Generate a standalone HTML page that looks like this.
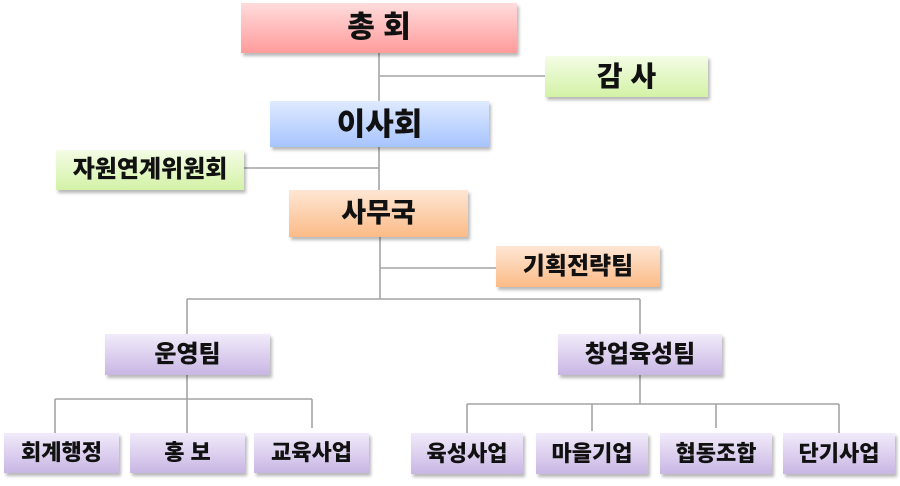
<!DOCTYPE html>
<html>
<head>
<meta charset="utf-8">
<style>
  html,body{margin:0;padding:0;background:#fff;}
  body{width:900px;height:486px;position:relative;overflow:hidden;
       font-family:"Liberation Sans","Noto Sans CJK KR","NanumGothic",sans-serif;}
  .b{position:absolute;display:flex;align-items:center;justify-content:center;
     font-weight:900;color:#111;box-shadow:2px 3px 3px rgba(0,0,0,0.28);
     white-space:pre;line-height:1;}
  .red{background:linear-gradient(#ffdcdc,#ff9b9b);}
  .grn{background:linear-gradient(#f4fce6,#d3f2a6);}
  .blu{background:linear-gradient(#dfeaff,#a7c4ff);}
  .org{background:linear-gradient(#fee6d4,#fbbb87);}
  .pur{background:linear-gradient(#f1ebfa,#c9b6e4);}
  svg{position:absolute;left:0;top:0;}
</style>
</head>
<body>
<svg width="900" height="486" viewBox="0 0 900 486">
  <g stroke="#a3a3a3" stroke-width="1.6" fill="none">
    <line x1="379" y1="53" x2="379" y2="101"/>
    <line x1="380" y1="76" x2="545" y2="76"/>
    <line x1="379" y1="147" x2="379" y2="190"/>
    <line x1="244" y1="168" x2="379" y2="168"/>
    <line x1="380" y1="237" x2="380" y2="299"/>
    <line x1="380" y1="268" x2="496" y2="268"/>
    <line x1="187" y1="299" x2="640" y2="299"/>
    <line x1="187" y1="299" x2="187" y2="334"/>
    <line x1="640" y1="299" x2="640" y2="334"/>
    <line x1="187" y1="375" x2="187" y2="433"/>
    <line x1="55" y1="399" x2="312" y2="399"/>
    <line x1="55" y1="399" x2="55" y2="433"/>
    <line x1="312" y1="399" x2="312" y2="428"/>
    <line x1="640" y1="375" x2="640" y2="404"/>
    <line x1="467" y1="404" x2="839" y2="404"/>
    <line x1="467" y1="404" x2="467" y2="433"/>
    <line x1="592" y1="404" x2="592" y2="431"/>
    <line x1="716" y1="404" x2="716" y2="428"/>
    <line x1="839" y1="404" x2="839" y2="433"/>
  </g>
</svg>

<div class="b red" style="left:241px;top:3px;width:276px;height:50px;font-size:30px;">총 회</div>
<div class="b grn" style="left:545px;top:56px;width:163px;height:41px;font-size:28px;">감 사</div>
<div class="b blu" style="left:270px;top:101px;width:219px;height:46px;font-size:31px;">이사회</div>
<div class="b grn" style="left:56px;top:150px;width:188px;height:40px;font-size:24px;">자원연계위원회</div>
<div class="b org" style="left:289px;top:190px;width:179px;height:47px;font-size:27px;">사무국</div>
<div class="b org" style="left:496px;top:246px;width:164px;height:41px;font-size:24px;">기획전략팀</div>
<div class="b pur" style="left:105px;top:334px;width:165px;height:41px;font-size:24px;">운영팀</div>
<div class="b pur" style="left:558px;top:334px;width:164px;height:41px;font-size:24px;">창업육성팀</div>

<div class="b pur" style="left:4px;top:433px;width:115px;height:40px;font-size:22px;">회계행정</div>
<div class="b pur" style="left:130px;top:433px;width:115px;height:40px;font-size:22px;">홍 보</div>
<div class="b pur" style="left:254px;top:433px;width:115px;height:40px;font-size:22px;">교육사업</div>
<div class="b pur" style="left:411px;top:433px;width:112px;height:41px;font-size:22px;">육성사업</div>
<div class="b pur" style="left:536px;top:433px;width:112px;height:41px;font-size:22px;">마을기업</div>
<div class="b pur" style="left:660px;top:433px;width:112px;height:41px;font-size:22px;">협동조합</div>
<div class="b pur" style="left:783px;top:433px;width:112px;height:41px;font-size:22px;">단기사업</div>
</body>
</html>
